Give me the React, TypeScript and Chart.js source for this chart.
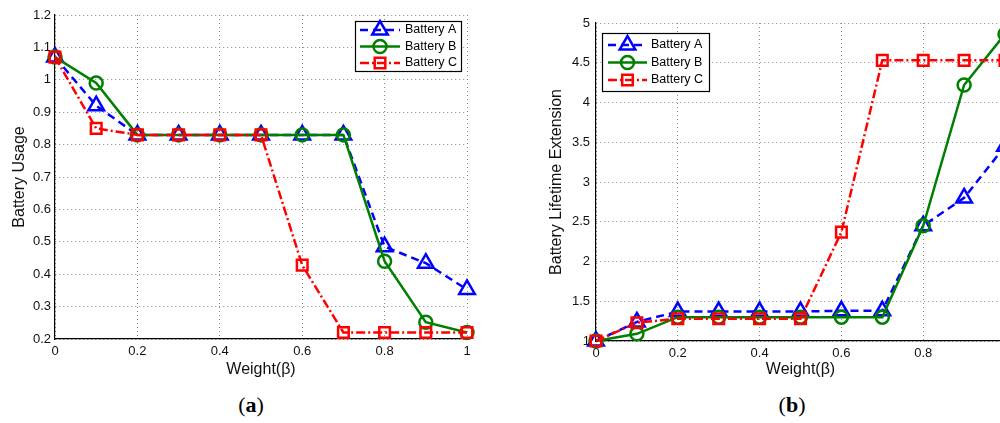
import { useEffect, useRef } from "react";
import { Chart, registerables } from "chart.js";

Chart.register(...registerables);

// Weight β values shared by both panels
const weights = [0, 0.1, 0.2, 0.3, 0.4, 0.5, 0.6, 0.7, 0.8, 0.9, 1.0];
const seriesNames = ["Battery A", "Battery B", "Battery C"];

// Panel (a): battery usage
const usageA = [1.07, 0.92, 0.83, 0.83, 0.83, 0.83, 0.83, 0.83, 0.485, 0.434, 0.353];
const usageB = [1.07, 0.99, 0.83, 0.83, 0.83, 0.83, 0.83, 0.83, 0.44, 0.252, 0.22];
const usageC = [1.07, 0.85, 0.83, 0.83, 0.83, 0.83, 0.428, 0.22, 0.22, 0.22, 0.22];

// Panel (b): battery lifetime extension
const lifeA = [1.0, 1.24, 1.37, 1.37, 1.37, 1.37, 1.38, 1.38, 2.45, 2.8, 3.45];
const lifeB = [1.0, 1.09, 1.3, 1.3, 1.3, 1.3, 1.3, 1.3, 2.45, 4.22, 4.86];
const lifeC = [1.0, 1.23, 1.28, 1.28, 1.28, 1.28, 2.37, 4.53, 4.53, 4.53, 4.53];

// Tick values
const weightTicks = [0, 0.2, 0.4, 0.6, 0.8, 1];
const usageTicks = [0.2, 0.3, 0.4, 0.5, 0.6, 0.7, 0.8, 0.9, 1, 1.1, 1.2];
const lifetimeTicks = [1, 1.5, 2, 2.5, 3, 3.5, 4, 4.5, 5];

const SANS = '"Liberation Sans", Arial, Helvetica, sans-serif';

const seriesStyles = [
  { color: "#0000ff", dash: [8, 5], pointStyle: "triangle", radius: 9, order: 2 },
  { color: "#008000", dash: [] as number[], pointStyle: "circle", radius: 6.5, order: 1 },
  { color: "#ff0000", dash: [9, 3, 2, 3], pointStyle: "rect", radius: 7.5, order: 0 },
];

function drawMarker(ctx: CanvasRenderingContext2D, style: string, r: number, x: number, y: number) {
  ctx.beginPath();
  if (style === "triangle") {
    const a = -Math.PI / 2;
    for (let k = 0; k < 3; k++) {
      const ang = a + (k * 2 * Math.PI) / 3;
      const px = x + Math.cos(ang) * r;
      const py = y + Math.sin(ang) * r;
      if (k === 0) ctx.moveTo(px, py);
      else ctx.lineTo(px, py);
    }
    ctx.closePath();
  } else if (style === "circle") {
    ctx.arc(x, y, r, 0, Math.PI * 2);
  } else {
    const s = Math.SQRT1_2 * r;
    ctx.rect(x - s, y - s, 2 * s, 2 * s);
  }
  ctx.stroke();
}

// Boxed legend showing line sample + marker for each series
const lineLegend = {
  id: "lineLegend",
  afterDraw(chart: any, _args: any, opts: any) {
    const { ctx } = chart;
    const { x, y, w, h, firstRow, rowH, sampleLeft, sampleRight, textLeft } = opts;
    ctx.save();
    ctx.fillStyle = "#ffffff";
    ctx.fillRect(x, y, w, h);
    ctx.strokeStyle = "#000000";
    ctx.lineWidth = 1.2;
    ctx.setLineDash([]);
    ctx.strokeRect(x + 0.5, y + 0.5, w, h);
    chart.data.datasets.forEach((ds: any, i: number) => {
      const cy = y + firstRow + i * rowH;
      ctx.strokeStyle = ds.borderColor;
      ctx.lineWidth = ds.borderWidth;
      ctx.setLineDash(ds.borderDash || []);
      ctx.beginPath();
      ctx.moveTo(x + sampleLeft, cy);
      ctx.lineTo(x + sampleRight, cy);
      ctx.stroke();
      ctx.setLineDash([]);
      drawMarker(ctx, ds.pointStyle, ds.pointRadius, x + (sampleLeft + sampleRight) / 2, cy);
      ctx.fillStyle = "#000000";
      ctx.font = `12.5px ${SANS}`;
      ctx.textBaseline = "middle";
      ctx.textAlign = "left";
      ctx.fillText(ds.label, x + textLeft, cy);
    });
    ctx.restore();
  },
};

type PanelProps = {
  series: number[][];
  yTicks: number[];
  yTitle: string;
  yTitlePad: number;
  yAxisWidth: number;
  yTickPad: number;
  xAxisHeight: number;
  pad: { top: number; right: number };
  legend: any;
  width: number;
  height: number;
  left: number;
};

function Panel(p: PanelProps) {
  const ref = useRef<HTMLCanvasElement>(null);
  useEffect(() => {
    if (!ref.current) return;
    const datasets = p.series.map((vals, i) => {
      const st = seriesStyles[i];
      return {
        label: seriesNames[i],
        data: weights.map((w, j) => ({ x: w, y: vals[j] })),
        borderColor: st.color,
        backgroundColor: "transparent",
        borderWidth: 2.5,
        borderDash: st.dash,
        pointStyle: st.pointStyle,
        pointRadius: st.radius,
        pointBorderWidth: 2.5,
        pointBorderColor: st.color,
        pointBackgroundColor: "rgba(0,0,0,0)",
        tension: 0,
        clip: false,
        order: st.order,
      };
    });
    const gridStyle = {
      color: "#8a8a8a",
      lineWidth: 1,
      drawTicks: false,
    };
    const chart = new Chart(ref.current, {
      type: "line",
      data: { datasets } as any,
      options: {
        animation: false,
        responsive: false,
        devicePixelRatio: 1,
        layout: { padding: { left: 0, top: p.pad.top, right: p.pad.right, bottom: 0 } },
        plugins: {
          legend: { display: false },
          tooltip: { enabled: false },
          lineLegend: p.legend,
        } as any,
        scales: {
          x: {
            type: "linear",
            min: 0,
            max: 1,
            afterBuildTicks: (s: any) => {
              s.ticks = weightTicks.map((v) => ({ value: v }));
            },
            afterFit: (s: any) => {
              s.height = p.xAxisHeight;
            },
            ticks: {
              padding: 5,
              color: "#111",
              font: { family: SANS, size: 13 },
              callback: (v: any) => String(+Number(v).toFixed(2)),
            },
            grid: gridStyle,
            border: { display: true, color: "#000", width: 1.2, dash: [1, 3] },
            title: {
              display: true,
              text: "Weight(β)",
              color: "#111",
              font: { family: SANS, size: 16 },
              padding: { top: 0, bottom: 11 },
            },
          },
          y: {
            type: "linear",
            min: p.yTicks[0],
            max: p.yTicks[p.yTicks.length - 1],
            afterBuildTicks: (s: any) => {
              s.ticks = p.yTicks.map((v) => ({ value: v }));
            },
            afterFit: (s: any) => {
              s.width = p.yAxisWidth;
            },
            ticks: {
              padding: p.yTickPad,
              color: "#111",
              font: { family: SANS, size: 13 },
              callback: (v: any) => String(+Number(v).toFixed(2)),
            },
            grid: gridStyle,
            border: { display: true, color: "#000", width: 1.2, dash: [1, 3] },
            title: {
              display: true,
              text: p.yTitle,
              color: "#111",
              font: { family: SANS, size: 16 },
              padding: { top: p.yTitlePad, bottom: 0 },
            },
          },
        },
      },
      plugins: [lineLegend],
    } as any);
    return () => chart.destroy();
  }, []);
  return (
    <canvas
      ref={ref}
      width={p.width}
      height={p.height}
      style={{ position: "absolute", left: p.left, top: 0, width: p.width, height: p.height }}
    />
  );
}

const captionStyle: any = {
  position: "absolute",
  width: 80,
  textAlign: "center",
  top: 391,
  fontFamily: '"Liberation Serif", "DejaVu Serif", serif',
  fontSize: 22,
  lineHeight: "28px",
  color: "#000",
};

export default function App() {
  return (
    <div
      style={{
        position: "absolute",
        left: 0,
        top: 0,
        width: 1000,
        height: 423,
        overflow: "hidden",
        background: "#fff",
      }}
    >
      <Panel
        series={[usageA, usageB, usageC]}
        yTicks={usageTicks}
        yTitle="Battery Usage"
        yTitlePad={10}
        yAxisWidth={55}
        yTickPad={4}
        xAxisHeight={51}
        pad={{ top: 15, right: 13 }}
        legend={{ x: 355, y: 21, w: 106, h: 50, firstRow: 9, rowH: 16.5, sampleLeft: 5, sampleRight: 45, textLeft: 50 }}
        width={480}
        height={390}
        left={0}
      />
      <Panel
        series={[lifeA, lifeB, lifeC]}
        yTicks={lifetimeTicks}
        yTitle="Battery Lifetime Extension"
        yTitlePad={7}
        yAxisWidth={56}
        yTickPad={6}
        xAxisHeight={49}
        pad={{ top: 23, right: 15 }}
        legend={{ x: 62, y: 33, w: 107, h: 58, firstRow: 12, rowH: 17.5, sampleLeft: 6, sampleRight: 45, textLeft: 49 }}
        width={480}
        height={390}
        left={540}
      />
      <div style={{ ...captionStyle, left: 211 }}>
        (<b>a</b>)
      </div>
      <div style={{ ...captionStyle, left: 752 }}>
        (<b>b</b>)
      </div>
    </div>
  );
}
